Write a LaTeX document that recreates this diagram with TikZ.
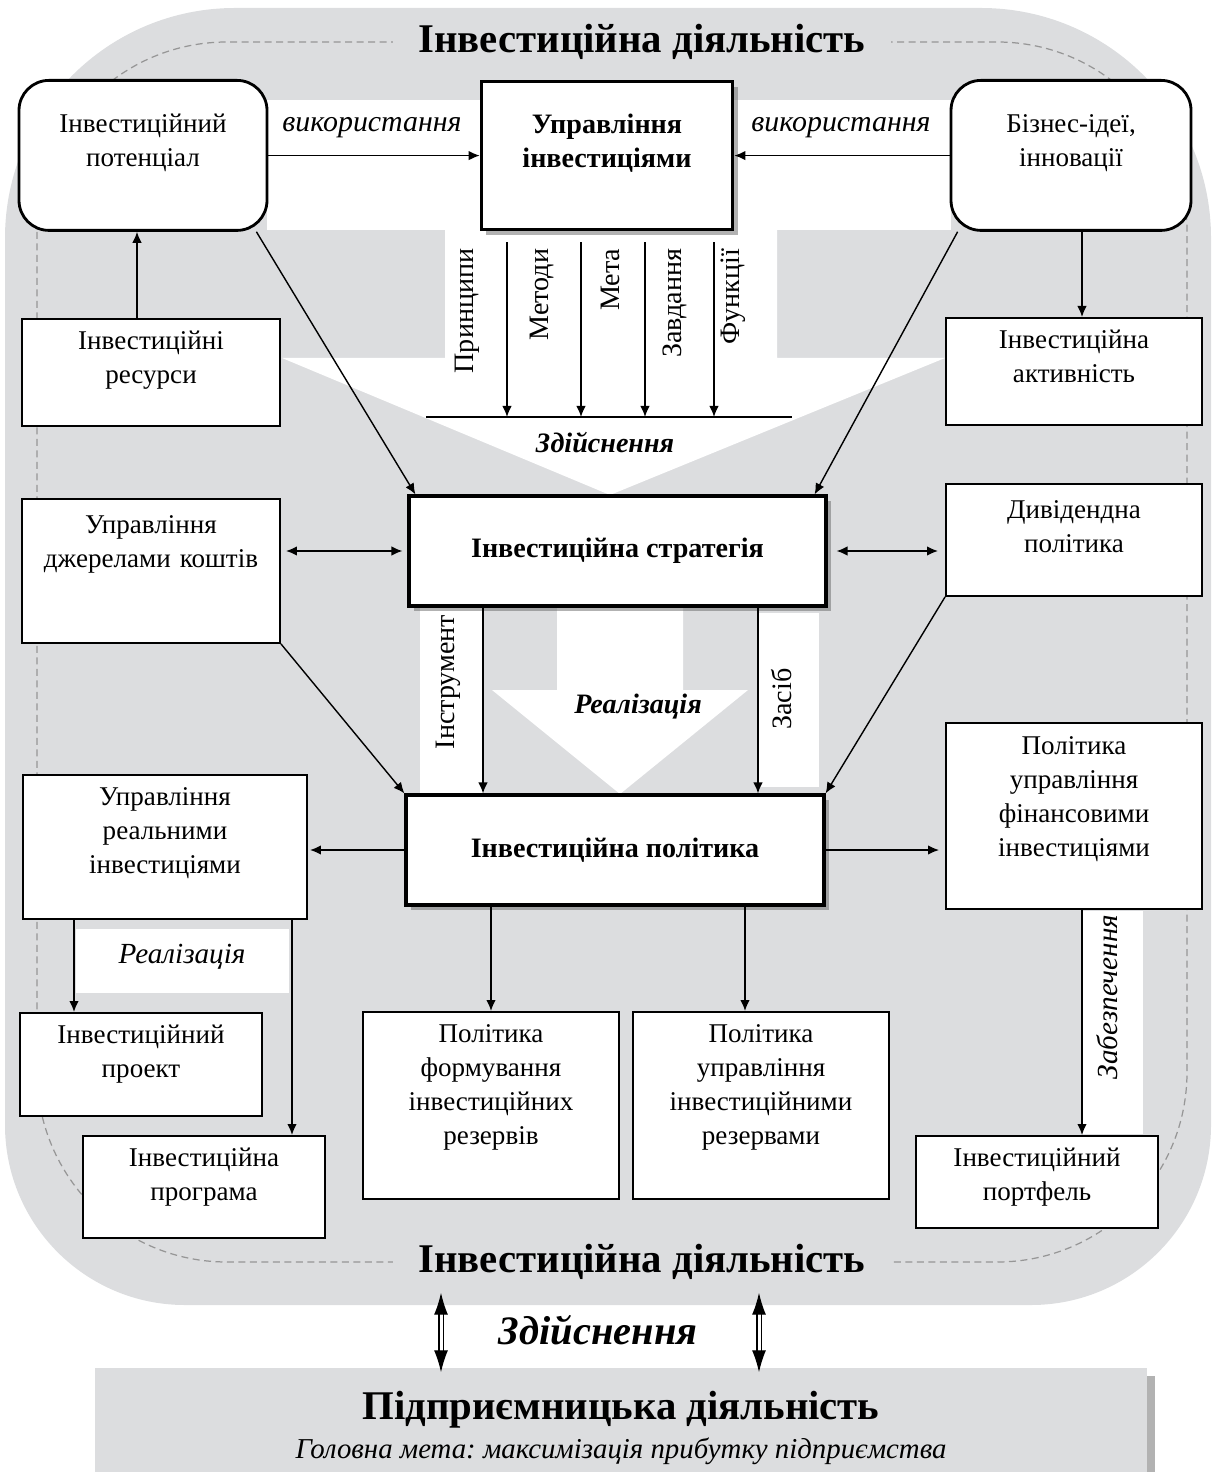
\documentclass[tikz,border=0pt]{standalone}
\usepackage{fontspec}
\setmainfont{Liberation Serif}[
  ItalicFont={Liberation Serif Italic},
  BoldFont={Liberation Serif Bold},
  BoldItalicFont={Liberation Serif Bold Italic}]
\usepackage{tikz}
\usetikzlibrary{arrows.meta}
\usetikzlibrary{shadows}
\usepackage{xcolor}
\definecolor{bggray}{RGB}{220,221,223}
\definecolor{dashgray}{RGB}{150,150,150}

\begin{document}
\begin{tikzpicture}[x=0.1mm,y=-0.1mm,
  >={Latex[length=1.1mm,width=0.95mm]},
  box/.style={draw,fill=white,line width=0.55pt,anchor=north,align=center,
    inner xsep=1mm,inner ysep=1.2mm,text height=1.9mm,
    font=\fontsize{7.7}{9.67}\selectfont},
  roundbox/.style={box,rounded corners=3mm,line width=0.8pt,inner ysep=3.3mm},
  mainbox/.style={draw,fill=white,line width=0.9pt,align=center,
    font=\fontsize{8}{9.67}\selectfont\bfseries,
    drop shadow={shadow xshift=0.5mm,shadow yshift=-0.5mm,fill=black!60}},
  lbl/.style={inner sep=0pt,font=\fontsize{8.5}{10}\selectfont\itshape},
  vlbl/.style={inner sep=0pt,rotate=90,font=\fontsize{8}{10}\selectfont},
  bilbl/.style={inner sep=0pt,font=\fontsize{8}{10}\selectfont\bfseries\itshape},
  heading/.style={fill=bggray,minimum width=49.8mm,minimum height=6mm,
    font=\fontsize{11.6}{14}\selectfont\bfseries},
  dblarrow/.style={double,double distance=0.3mm,line width=0.35pt,
    {Latex[length=2.2mm,width=1.4mm]}-{Latex[length=2.2mm,width=1.4mm]}}]
\useasboundingbox (0,0) rectangle (1213,1472);

\fill[bggray] (5,600) [rounded corners=23mm] -- (5,8) -- (1211,8) -- (1211,700)
  [rounded corners=18mm] -- (1211,1305) -- (5,1305) -- (5,600) -- cycle;
\draw[dashgray,line width=0.35pt,dash pattern=on 0.7mm off 0.45mm,rounded corners=19mm]
  (37,42) rectangle (1187,1262);

\fill[white] (267,100) rectangle (951,230);
\fill[white] (445,227) -- (777,227) -- (777,358) -- (945,358) -- (610,495) -- (282,358) -- (445,358) -- cycle;
\fill[white] (420,606) rectangle (483,793);
\fill[white] (758,613) rectangle (819,787);
\fill[white] (557,606) -- (683,606) -- (683,690) -- (748,690) -- (620,794) -- (492,690) -- (557,690) -- cycle;
\fill[white] (76,929) rectangle (289,993);
\fill[white] (1082,911) rectangle (1143,1134);

\node[heading] (topH) at (642,42) {Інвестиційна діяльність};
\node[heading] (botH) at (642,1262) {Інвестиційна діяльність};

\node[roundbox,text width=22.8mm,text depth=6.5mm] (pot) at (143,79) {Інвестиційний\\потенціал};
\node[mainbox,anchor=north,text width=22.8mm,inner ysep=3.3mm,text height=1.9mm,text depth=6.3mm] (upr) at (607,80) {Управління\\інвестиціями};
\node[roundbox,text width=22mm,text depth=6.5mm] (biz) at (1071,79) {Бізнес-ідеї,\\інновації};
\node[box,text width=23.8mm,text depth=6.4mm] (res) at (151,318) {Інвестиційні\\ресурси};
\node[box,text width=23.6mm,text depth=6.4mm] (akt) at (1074,317) {Інвестиційна\\активність};
\node[mainbox,minimum width=41.7mm,minimum height=11mm] (strat) at (617.5,551) {Інвестиційна стратегія};
\node[box,text width=23.8mm,text depth=9.3mm,inner ysep=1.6mm] (dzh) at (151,498) {Управління\\джерелами коштів};
\node[box,text width=23.6mm,text depth=6.1mm,inner ysep=1.6mm] (div) at (1074,483) {Дивідендна\\політика};
\node[mainbox,minimum width=41.8mm,minimum height=11mm] (pol) at (615,850) {Інвестиційна політика};
\node[box,text width=26.4mm,text depth=10.1mm] (real) at (165,774) {Управління\\реальними\\інвестиціями};
\node[box,text width=23.6mm,text depth=14.1mm,inner ysep=1.3mm] (fin) at (1074,722) {Політика\\управління\\фінансовими\\інвестиціями};
\node[box,text width=22.2mm,text depth=6mm] (proj) at (141,1012) {Інвестиційний\\проект};
\node[box,text width=22.2mm,text depth=5.9mm] (prog) at (204,1135) {Інвестиційна\\програма};
\node[box,text width=23.6mm,text depth=14.4mm] (form) at (491,1011) {Політика\\формування\\інвестиційних\\резервів};
\node[box,text width=23.6mm,text depth=14.4mm] (uir) at (761,1011) {Політика\\управління\\інвестиційними\\резервами};
\node[box,text width=22.2mm,text depth=4.9mm] (port) at (1037,1135) {Інвестиційний\\портфель};

\coordinate (barL) at (426,417);
\coordinate (barR) at (792,417);
\draw[line width=0.4pt] (barL) -- (barR);
\foreach \x in {507,581,645,714}
  \draw[->,shorten <=1.1mm] (\x,0 |- upr.south) -- (\x,0 |- barL);
\foreach \x/\t/\n in {467/Принципи/lpr,542/Методи/lmet,610/Мета/lmeta,675/Завдання/lzav,733/Функції/lfun}
  \node[vlbl,anchor=east] (\n) at (\x,248) {\t};
\node[bilbl] (zd1) at (605,443) {Здійснення};

\draw[->] (pot.east |- upr.west) -- (upr.west);
\draw[->] (biz.west |- upr.east) -- (upr.east);
\node[lbl] (usel) at (372,128) {використання};
\node[lbl] (user) at (841,128) {використання};
\draw[->] (137,0 |- res.north) -- (137,0 |- pot.south);
\draw[->] (1082,0 |- biz.south) -- (1082,0 |- akt.north);
\draw[->] ([xshift=-1.2mm]pot.south east) -- ([xshift=0.8mm]strat.north west);
\draw[->] ([xshift=0.8mm]biz.south west) -- ([xshift=-1.3mm]strat.north east);
\draw[<->,shorten <=0.5mm,shorten >=0.5mm] (dzh.east |- strat.west) -- (strat.west);
\draw[<->,shorten <=0.9mm,shorten >=0.7mm] (strat.east) -- (strat.east -| div.west);

\draw[->] (483,0 |- strat.south) -- (483,0 |- pol.north);
\draw[->] (758,0 |- strat.south) -- (758,0 |- pol.north);
\node[vlbl] (instr) at (448,682) {Інструмент};
\node[vlbl] (zasib) at (782,699) {Засіб};
\node[bilbl] (realz) at (638,707) {Реалізація};
\draw[->] (dzh.south east) -- (pol.north west);
\draw[->] (div.south west) -- (pol.north east);

\draw[->,shorten >=0.2mm] (pol.west) -- (pol.west -| real.east);
\draw[->,shorten >=0.6mm] (pol.east) -- (pol.east -| fin.west);
\draw[->] (form.north |- pol.south) -- (form.north);
\draw[->] (745,0 |- pol.south) -- (745,0 |- uir.north);
\draw[->] (74,0 |- real.south) -- (74,0 |- proj.north);
\draw[->] (292,0 |- real.south) -- (292,0 |- prog.north);
\node[lbl,font=\fontsize{8.3}{10}\selectfont\itshape] (real2) at (182,957) {Реалізація};
\draw[->] (1082,0 |- fin.south) -- (1082,0 |- port.north);
\node[vlbl,font=\fontsize{8.3}{10}\selectfont\itshape] (zab) at (1107,997) {Забезпечення};

\node[fill=bggray,minimum width=105.2mm,minimum height=12mm,align=center,
  drop shadow={shadow xshift=0.8mm,shadow yshift=-0.8mm,fill=black!60}] (pid) at (621,1428)
  {{\fontsize{11.6}{14}\selectfont\bfseries Підприємницька діяльність}\\[-0.4mm]
   {\fontsize{8.2}{10}\selectfont\itshape\frenchspacing Головна мета: максимізація прибутку підприємства}};
\draw[dblarrow,shorten >=-0.5mm] (441,0 |- botH.south) -- (441,0 |- pid.north);
\draw[dblarrow,shorten >=-0.5mm] (759,0 |- botH.south) -- (759,0 |- pid.north);
\node[font=\fontsize{11.5}{14}\selectfont\bfseries\itshape] (zd2) at (598,1330) {Здійснення};
\end{tikzpicture}
\end{document}
